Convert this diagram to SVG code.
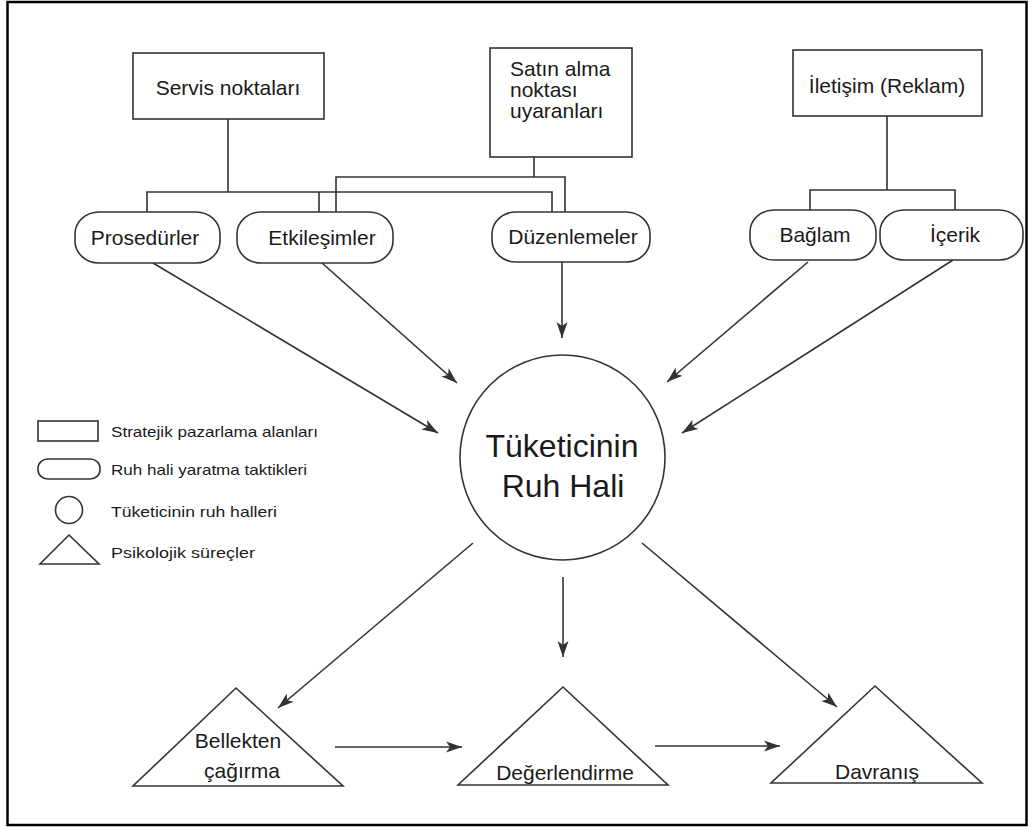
<svg xmlns="http://www.w3.org/2000/svg" width="1035" height="827" viewBox="0 0 1035 827">
<style>
.box{fill:#fff;stroke:#333;stroke-width:1.6}
.ln{fill:none;stroke:#333;stroke-width:1.6}
.ar{fill:none;stroke:#333;stroke-width:1.6;marker-end:url(#ah)}
text{font-family:"Liberation Sans",Arial,sans-serif;fill:#1a1a1a}
.t{font-size:21px}
.c{text-anchor:middle}
.lg{font-size:15px}
</style>
<defs>
<marker id="ah" markerUnits="userSpaceOnUse" markerWidth="18" markerHeight="12" refX="16" refY="6" orient="auto">
<path d="M0,0.5 L16,6 L0,11.5 L4,6 Z" fill="#333"/>
</marker>
</defs>
<rect x="0" y="0" width="1035" height="827" fill="#fff"/>
<rect x="7.5" y="2" width="1019" height="823" fill="none" stroke="#000" stroke-width="2.5"/>

<g id="connectors">
<path class="ln" d="M228,119 V192 M147,212 V192 H552 V212 M319,192 V212"/>
<path class="ln" d="M534,157 V177 M336,212 V177 H565 V212"/>
<path class="ln" d="M887,116 V190 M810,210 V190 H955 V210"/>
<line class="ar" x1="153" y1="263" x2="438" y2="433"/>
<line class="ar" x1="322" y1="263" x2="457" y2="383"/>
<line class="ar" x1="562" y1="262" x2="562" y2="338"/>
<line class="ar" x1="808" y1="262" x2="667" y2="382"/>
<line class="ar" x1="953" y1="260" x2="682" y2="433"/>
<line class="ar" x1="473" y1="543" x2="278" y2="708"/>
<line class="ar" x1="563" y1="577" x2="563" y2="657"/>
<line class="ar" x1="642" y1="543" x2="837" y2="707"/>
<line class="ar" x1="335" y1="747" x2="462" y2="747"/>
<line class="ar" x1="655" y1="746" x2="780" y2="746"/>
</g>

<g id="servis">
<rect class="box" x="133" y="53" width="191" height="66"/>
<text class="t c" x="228" y="95">Servis noktaları</text>
</g>
<g id="satin">
<rect class="box" x="490" y="48" width="142" height="109"/>
<text class="t" x="510" y="76"><tspan x="510" y="76">Satın alma</tspan><tspan x="510" y="97">noktası</tspan><tspan x="510" y="118">uyaranları</tspan></text>
</g>
<g id="iletisim">
<rect class="box" x="793" y="50" width="189" height="66"/>
<text class="t c" x="887" y="93">İletişim (Reklam)</text>
</g>

<g id="prosedurler">
<rect class="box" x="75" y="212" width="145" height="51" rx="24" ry="22"/>
<text class="t c" x="145" y="245">Prosedürler</text>
</g>
<g id="etkilesimler">
<rect class="box" x="237" y="212" width="156" height="51" rx="24" ry="22"/>
<text class="t c" x="322" y="245">Etkileşimler</text>
</g>
<g id="duzenlemeler">
<rect class="box" x="492" y="212" width="158" height="50" rx="24" ry="22"/>
<text class="t c" x="573" y="244">Düzenlemeler</text>
</g>
<g id="baglam">
<rect class="box" x="750" y="210" width="126" height="50" rx="24" ry="22"/>
<text class="t c" x="815" y="242">Bağlam</text>
</g>
<g id="icerik">
<rect class="box" x="880" y="210" width="143" height="50" rx="24" ry="22"/>
<text class="t c" x="955" y="242">İçerik</text>
</g>

<g id="ruhhali">
<circle class="box" cx="562.5" cy="457.5" r="102.5"/>
<text class="c" x="562" y="457" style="font-size:32px">Tüketicinin</text>
<text class="c" x="563" y="497" style="font-size:32px">Ruh Hali</text>
</g>

<g id="bellekten">
<polygon class="box" points="236,688 343,786 133,786"/>
<text class="t c" x="238" y="748">Bellekten</text>
<text class="t c" x="242" y="778">çağırma</text>
</g>
<g id="degerlendirme">
<polygon class="box" points="563,687 668,785 458,785"/>
<text class="t c" x="565" y="780">Değerlendirme</text>
</g>
<g id="davranis">
<polygon class="box" points="875,686 982,783 771,783"/>
<text class="t c" x="877" y="779">Davranış</text>
</g>

<g id="legend">
<rect class="box" x="38" y="421" width="60" height="20"/>
<text class="lg" x="111" y="437" textLength="207" lengthAdjust="spacingAndGlyphs">Stratejik pazarlama alanları</text>
<rect class="box" x="38" y="459" width="62" height="20" rx="10" ry="9"/>
<text class="lg" x="111" y="475" textLength="196" lengthAdjust="spacingAndGlyphs">Ruh hali yaratma taktikleri</text>
<circle class="box" cx="69" cy="510" r="13.5"/>
<text class="lg" x="111" y="517" textLength="166" lengthAdjust="spacingAndGlyphs">Tüketicinin ruh halleri</text>
<polygon class="box" points="69,535 99,564 40,564"/>
<text class="lg" x="111" y="558" textLength="144" lengthAdjust="spacingAndGlyphs">Psikolojik süreçler</text>
</g>
</svg>
